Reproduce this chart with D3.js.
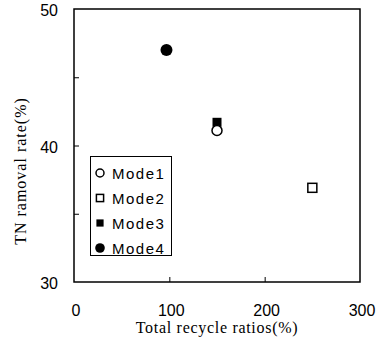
<!DOCTYPE html>
<html><head><meta charset="utf-8">
<script src="https://cdn.jsdelivr.net/npm/d3@7"></script>
<style>body{margin:0;background:#fff}svg{display:block}</style>
</head><body>
<script>
const modes = ["Mode1","Mode2","Mode3","Mode4"];
const recycle = [150, 250, 150, 97];
const tnRemoval = [41.1, 36.9, 41.7, 47.0];
const xTicks = [0, 100, 200, 300];
const yTicks = [30, 40, 50];
const yMinor = [35, 45];
const symbols = ["openCircle","openSquare","filledSquare","filledCircle"];

const W = 378, H = 355;
const m = {l: 74, r: 18, t: 9, b: 73};
const svg = d3.select("body").append("svg").attr("width", W).attr("height", H);
const x = d3.scaleLinear().domain([0, 300]).range([m.l, W - m.r]);
const y = d3.scaleLinear().domain([30, 50]).range([H - m.b, m.t]);

// frame
svg.append("rect").attr("x", x(0)).attr("y", y(50)).attr("width", x(300)-x(0)).attr("height", y(30)-y(50))
  .attr("fill","none").attr("stroke","#000").attr("stroke-width",1.5);

// inner ticks
const xa = svg.append("g").attr("transform",`translate(0,${y(30)})`)
  .call(d3.axisTop(x).tickValues([100,200]).tickSize(5).tickFormat(""));
xa.select(".domain").remove();
const ya = svg.append("g").attr("transform",`translate(${x(0)},0)`)
  .call(d3.axisRight(y).tickValues([yMinor[0],40,yMinor[1]]).tickSize(5).tickFormat(""));
ya.select(".domain").remove();
svg.selectAll(".tick line").attr("stroke","#000").attr("stroke-width",1);

// tick labels
const lf = "'Liberation Sans', Arial, sans-serif";
svg.append("g").selectAll("text").data(xTicks).join("text")
  .attr("x", d => x(d) + 2).attr("y", y(30) + 34).attr("text-anchor","middle")
  .attr("font-family", lf).attr("font-size", 16).text(d => d);
svg.append("g").selectAll("text").data(yTicks).join("text")
  .attr("x", x(0) - 16).attr("y", d => y(d) + 7).attr("text-anchor","end")
  .attr("font-family", lf).attr("font-size", 16).text(d => d);

// axis titles
const sf = "'Liberation Serif', 'Times New Roman', serif";
svg.append("text").attr("x", 217).attr("y", 333).attr("text-anchor","middle")
  .attr("font-family", sf).attr("font-size", 16).attr("letter-spacing", 0.7).text("Total recycle ratios(%)");
svg.append("text").attr("transform",`translate(26,171) rotate(-90)`).attr("text-anchor","middle")
  .attr("font-family", sf).attr("font-size", 16).attr("letter-spacing", 1).text("TN ramoval rate(%)");

function drawSym(g, type, cx, cy, scale) {
  const s = scale || 1;
  if (type === "openCircle") g.append("circle").attr("cx",cx).attr("cy",cy).attr("r",5*s).attr("fill","#fff").attr("stroke","#000").attr("stroke-width",1.5);
  if (type === "filledCircle") g.append("circle").attr("cx",cx).attr("cy",cy).attr("r",6*s).attr("fill","#000");
  if (type === "openSquare") g.append("rect").attr("x",cx-4.5*s).attr("y",cy-4.5*s).attr("width",9*s).attr("height",9*s).attr("fill","#fff").attr("stroke","#000").attr("stroke-width",1.5);
  if (type === "filledSquare") g.append("rect").attr("x",cx-4.5*s).attr("y",cy-4.5*s).attr("width",9*s).attr("height",9*s).attr("fill","#000");
}

// points: draw Mode3 before Mode1 so open circle is on top
const order = [2, 3, 1, 0];
const pg = svg.append("g");
order.forEach(i => drawSym(pg, symbols[i], x(recycle[i]), y(tnRemoval[i])));

// legend
const lg = svg.append("g");
lg.append("rect").attr("x", 90.5).attr("y", 156.5).attr("width", 81).attr("height", 99)
  .attr("fill","#fff").attr("stroke","#000").attr("stroke-width",1);
modes.forEach((mname, i) => {
  const cy = 173 + i*25;
  drawSym(lg, symbols[i], 100, cy, 0.8);
  lg.append("text").attr("x", 112).attr("y", cy + 5.5).attr("font-family", lf).attr("font-size", 15)
    .attr("letter-spacing", 1.5).text(mname);
});
</script>
</body></html>
